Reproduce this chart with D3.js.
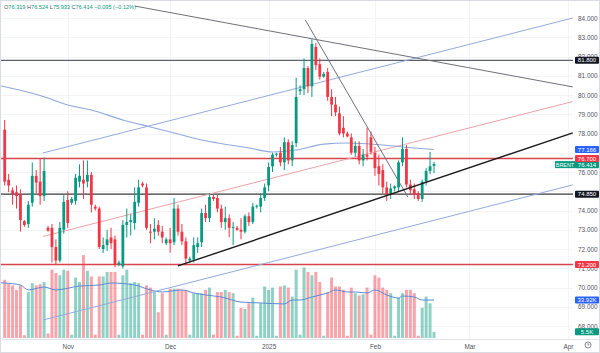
<!DOCTYPE html>
<html><head><meta charset="utf-8">
<script src="https://cdn.jsdelivr.net/npm/d3@7"></script>
<style>
body{margin:0;background:#fff}
svg{display:block}
text{font-family:"Liberation Sans",Arial,sans-serif}
</style>
</head><body>
<svg id="c" width="600" height="353"></svg>
<script>
// ---------- DATA ----------
const dates = ["2024-10-14","2024-10-15","2024-10-16","2024-10-17","2024-10-18","2024-10-20","2024-10-21","2024-10-22","2024-10-23","2024-10-24","2024-10-25","2024-10-27","2024-10-28","2024-10-29","2024-10-30","2024-10-31","2024-11-01","2024-11-03","2024-11-04","2024-11-05","2024-11-06","2024-11-07","2024-11-08","2024-11-10","2024-11-11","2024-11-12","2024-11-13","2024-11-14","2024-11-15","2024-11-17","2024-11-18","2024-11-19","2024-11-20","2024-11-21","2024-11-22","2024-11-24","2024-11-25","2024-11-26","2024-11-27","2024-11-28","2024-11-29","2024-12-01","2024-12-02","2024-12-03","2024-12-04","2024-12-05","2024-12-06","2024-12-08","2024-12-09","2024-12-10","2024-12-11","2024-12-12","2024-12-13","2024-12-15","2024-12-16","2024-12-17","2024-12-18","2024-12-19","2024-12-20","2024-12-22","2024-12-23","2024-12-24","2024-12-26","2024-12-27","2024-12-29","2024-12-30","2024-12-31","2025-01-02","2025-01-03","2025-01-05","2025-01-06","2025-01-07","2025-01-08","2025-01-09","2025-01-10","2025-01-12","2025-01-13","2025-01-14","2025-01-15","2025-01-16","2025-01-17","2025-01-19","2025-01-20","2025-01-21","2025-01-22","2025-01-23","2025-01-24","2025-01-26","2025-01-27","2025-01-28","2025-01-29","2025-01-30","2025-01-31","2025-02-02","2025-02-03","2025-02-04","2025-02-05","2025-02-06","2025-02-07","2025-02-09","2025-02-10","2025-02-11","2025-02-12","2025-02-13","2025-02-14","2025-02-16","2025-02-17","2025-02-18","2025-02-19","2025-02-20"];

const opens  = [78.2,75.6,75.05,74.95,74.85,73.45,73.3,74.4,75.8,75.5,74.75,73.1,73.1,72.1,71.4,73.0,74.55,74.4,74.5,75.5,75.6,75.5,75.85,74.2,74.1,72.0,72.2,72.6,72.5,71.2,71.1,73.25,73.4,73.35,74.4,75.4,75.2,72.9,72.9,73.25,72.9,72.3,72.5,72.35,74.1,72.9,72.4,71.4,71.45,72.1,72.35,73.87,73.6,74.7,74.65,74.1,73.4,73.6,73.1,73.1,73.0,72.9,73.7,73.4,74.2,74.2,74.65,75.3,76.3,76.9,77.0,76.5,77.55,76.6,77.5,80.2,80.3,81.4,80.45,82.5,81.6,80.95,81.2,79.9,79.5,79.05,78.3,78.0,77.8,77.0,77.35,76.6,76.9,77.8,77.0,76.3,76.1,75.2,74.85,75.15,75.2,76.5,77.2,75.35,75.1,74.9,74.6,75.5,76.05,76.319];
const highs  = [78.7,75.9,75.2,75.3,75.1,73.5,74.5,76.5,76.1,76.7,76.75,73.2,73.3,72.5,73.4,74.8,75.0,74.7,75.9,76.4,76.6,76.6,76.0,74.3,74.2,72.6,73.0,73.1,72.7,71.4,73.5,74.1,73.8,75.2,75.6,75.5,75.4,73.3,73.6,73.5,73.2,72.6,73.1,74.65,74.3,73.3,72.6,71.6,72.6,72.6,74.1,74.3,74.9,74.8,74.8,74.3,74.2,73.8,73.4,73.2,73.6,73.8,73.9,74.4,74.3,74.9,75.4,76.5,77.0,77.0,77.3,77.8,77.7,77.6,80.9,80.5,81.9,81.5,82.9,82.7,81.9,81.2,81.4,80.3,79.9,79.4,78.9,78.1,78.0,77.6,77.6,77.2,78.3,78.1,77.3,76.9,76.4,75.5,75.4,75.3,76.6,77.8,77.4,75.6,75.4,75.0,75.6,76.2,77.05,76.524];
const lows   = [75.3,74.95,74.3,74.1,72.9,73.15,73.1,74.2,74.9,74.3,74.5,72.9,71.3,71.2,71.3,72.8,73.1,74.3,74.3,75.2,74.6,75.2,73.9,74.0,72.0,71.8,71.9,72.0,71.05,71.1,71.0,72.6,72.7,73.0,74.2,75.2,73.0,72.3,72.5,72.7,72.3,72.2,71.8,72.2,72.7,72.2,71.15,71.3,71.3,71.8,72.1,73.4,73.4,74.5,73.9,73.1,73.0,72.6,72.2,72.95,72.5,72.8,73.2,73.3,74.1,73.9,74.5,75.0,76.0,76.8,76.3,76.1,76.4,76.3,77.3,80.0,80.0,80.1,79.9,81.3,80.8,80.9,79.7,78.9,78.9,77.9,77.8,77.8,76.9,76.8,76.4,76.3,76.6,76.9,75.8,75.3,74.9,74.5,74.6,75.0,75.0,76.3,75.2,74.8,74.6,74.5,74.45,75.3,75.9,75.933];
const closes = [75.5,75.3,74.85,74.75,73.5,73.25,74.3,75.8,75.45,74.75,76.05,72.95,72.1,71.4,73.1,74.45,73.35,74.6,75.7,75.8,75.4,75.85,74.3,74.1,72.1,72.2,72.5,72.3,71.2,71.3,73.25,73.4,73.5,74.45,75.2,75.3,73.1,72.85,73.05,72.9,72.6,72.5,72.3,74.1,72.9,72.4,71.5,71.5,72.2,72.3,73.87,73.6,74.7,74.6,74.1,73.4,73.6,73.1,73.15,73.0,72.9,73.7,73.4,74.2,74.25,74.65,75.2,76.26,76.9,76.95,76.5,77.55,76.6,77.4,79.9,80.3,81.4,80.45,82.65,81.55,80.95,81.1,79.9,79.5,79.1,78.0,78.0,77.85,77.0,77.35,76.6,76.9,76.8,77.05,76.2,75.9,75.2,74.85,75.15,75.25,76.5,77.2,75.35,75.05,74.8,74.6,75.5,76.05,76.3,76.414];
const volumes = [52,49,47,43,47,2.5,41,49,47,48,50,4,61,58,56,61,60,3,54,50,74,60,55,3,55,55,59,59,59,3,56,61,49,50,49,3,47,45,41,23,40,3,44,44,44,43,43,3,40,40,40,43,45,3,41,41,43,41,40,2,27,26,31,36,2,31,46,43,45,2,46,47,45,37,61,3,63,59,56,59,50,2,41,54,46,46,43,2,45,40,38,39,45,3,56,54,45,43,40,2,36,40,43,43,40,2,27,37,31,5.5];

// moving average of price (at these bar indices)
const maIdx = [-1.2,0,10,16,22,30,37,43,50,54,62,68,74,81,87,96,104,109];
const maVal = [80.48,80.43,79.91,79.48,79.22,78.70,78.34,78.03,77.66,77.51,77.25,77.04,77.14,77.45,77.51,77.40,77.25,77.166];
// volume moving average (thousands)
const volMaIdx = [-1.2,0,4,6,10,13,19,24,27,33,37,40,45,48,51,55,60,65,71,73,75,78,82,84,87,89,92,94,97,100,101,104,106,109];
const volMaVal = [49.3,49.1,47.3,42.9,45.5,42.9,46.4,47.3,49.1,47.3,42.9,41.1,42.9,40.2,38.4,36.6,32.1,31.3,30.4,33.9,33.9,36.6,40.2,42.9,41.1,41.1,40.2,42.9,38.4,35.7,37.5,36.6,33.9,33.92];

const priceTicks = [68,69,70,71,72,73,74,75,76,77,78,79,80,81,82,83,84];
const monthLabels = ["Nov","Dec","2025","Feb","Mar","Apr"];
const monthIdx = [16,42,67,94,118,143];

const hLevels = [81.8, 76.7, 74.85, 71.2];
// drawn trend lines: [barIndex, price] endpoints
const lineFrom = [[33.07,84.62],[76.32,83.9],[44.0,71.12],[9.72,76.99],[9.72,72.65],[9.72,68.31]];
const lineTo   = [[144.24,80.42],[102.36,74.70],[144.24,78.03],[144.24,84.0],[144.24,79.66],[144.24,75.33]];

const lastVolMa = 33.92, lastVol = 5.5;
const headerVals = {O:"76.319",H:"76.524",L:"75.933",C:"76.414",chg:"−0.095 (−0.12%)"};

// ---------- STYLE ----------
const UP="#089981", DN="#f23645";
const VUP="rgba(8,153,129,0.45)", VDN="rgba(242,54,69,0.45)";
const hLevelStyle = [{c:"#5d6066",w:1.3},{c:"#d8434e",w:1.5},{c:"#3a3a3a",w:1.3},{c:"#d8434e",w:1.5}];
const hLabelBg = ["#131722","#f23645","#131722","#f23645"];
const lineStyle = [{c:"#6f7177",w:1},{c:"#6f7177",w:1},{c:"#1b1b1b",w:1.4},{c:"#93abdc",w:1},{c:"#eea3a8",w:1},{c:"#93abdc",w:1}];

const W=600,H=353, PR=573, PB=339, BH=7;
const svg = d3.select("#c");

const x = d3.scaleLinear().domain([0,109]).range([4.7,434]);
const y = d3.scaleLinear().domain([68,84]).range([326,18]);
const yv = d3.scaleLinear().domain([0,60]).range([338,270.8]);

const data = dates.map((d,i)=>({i,d,o:opens[i],h:highs[i],l:lows[i],c:closes[i],v:volumes[i]}));

svg.append("rect").attr("width",W).attr("height",H).attr("fill","#fff");
svg.append("clipPath").attr("id","clip").append("rect").attr("x",0).attr("y",0).attr("width",PR).attr("height",PB);

// grid
const grid = svg.append("g").attr("clip-path","url(#clip)");
grid.selectAll(".hg").data(priceTicks).join("line")
  .attr("x1",0).attr("x2",PR).attr("y1",d=>Math.round(y(d))+0.5).attr("y2",d=>Math.round(y(d))+0.5)
  .attr("stroke","#f3f4f7").attr("stroke-width",1);
grid.selectAll(".vg").data(monthIdx).join("line")
  .attr("y1",0).attr("y2",PB).attr("x1",d=>Math.round(x(d))+0.5).attr("x2",d=>Math.round(x(d))+0.5)
  .attr("stroke","#f3f4f7").attr("stroke-width",1);

const plot = svg.append("g").attr("clip-path","url(#clip)");

// volume bars
const bw = 3.0;
plot.selectAll(".vol").data(data).join("rect")
  .attr("x",d=>x(d.i)-bw/2).attr("width",bw)
  .attr("y",d=>yv(d.v)).attr("height",d=>yv(0)-yv(d.v))
  .attr("fill",d=>d.c>=d.o?VUP:VDN);

// volume MA
plot.append("path").datum(volMaIdx.map((k,j)=>[k,volMaVal[j]]))
  .attr("d",d3.line().x(d=>x(d[0])).y(d=>yv(d[1])).curve(d3.curveMonotoneX))
  .attr("fill","none").attr("stroke","#5b8ad6").attr("stroke-width",1);

// horizontal levels
plot.selectAll(".lvl").data(hLevels).join("line")
  .attr("x1",0).attr("x2",PR).attr("y1",d=>y(d)).attr("y2",d=>y(d))
  .attr("stroke",(d,k)=>hLevelStyle[k].c).attr("stroke-width",(d,k)=>hLevelStyle[k].w);

// channel lines (below candles)
plot.selectAll(".tl").data(lineFrom.map((f,k)=>({f,t:lineTo[k],k})).filter(d=>d.k>=3)).join("line")
  .attr("x1",d=>x(d.f[0])).attr("y1",d=>y(d.f[1])).attr("x2",d=>x(d.t[0])).attr("y2",d=>y(d.t[1]))
  .attr("stroke",d=>lineStyle[d.k].c).attr("stroke-width",d=>lineStyle[d.k].w);

// price MA
plot.append("path").datum(maIdx.map((k,j)=>[k,maVal[j]]))
  .attr("d",d3.line().x(d=>x(d[0])).y(d=>y(d[1])).curve(d3.curveMonotoneX))
  .attr("fill","none").attr("stroke","#8fa9dc").attr("stroke-width",1.1);

// candles
const cw = 2.8;
const cg = plot.selectAll(".cd").data(data).join("g");
cg.append("line").attr("x1",d=>x(d.i)).attr("x2",d=>x(d.i))
  .attr("y1",d=>y(d.h)).attr("y2",d=>y(d.l))
  .attr("stroke",d=>d.c>=d.o?UP:DN).attr("stroke-width",1);
cg.append("rect").attr("x",d=>x(d.i)-cw/2).attr("width",cw)
  .attr("y",d=>y(Math.max(d.o,d.c)))
  .attr("height",d=>Math.max(1,Math.abs(y(d.o)-y(d.c))))
  .attr("fill",d=>d.c>=d.o?UP:DN);

// trend lines (above candles)
plot.selectAll(".tl2").data(lineFrom.map((f,k)=>({f,t:lineTo[k],k})).filter(d=>d.k<3)).join("line")
  .attr("x1",d=>x(d.f[0])).attr("y1",d=>y(d.f[1])).attr("x2",d=>x(d.t[0])).attr("y2",d=>y(d.t[1]))
  .attr("stroke",d=>lineStyle[d.k].c).attr("stroke-width",d=>lineStyle[d.k].w);

// frame / separators
svg.append("line").attr("x1",0).attr("x2",W).attr("y1",339.5).attr("y2",339.5).attr("stroke","#e0e3eb");
svg.append("rect").attr("x",0.5).attr("y",0.5).attr("width",W-1).attr("height",H-1).attr("fill","none").attr("stroke","#d9dce3");

// value boxes positions (used to hide fully covered tick labels, as the reference does)
const boxYs = hLevels.map(v=>y(v)).concat([y(maVal[maVal.length-1]), y(closes[closes.length-1])]);

// price axis
const ax = svg.append("g").attr("transform",`translate(577,0)`)
  .call(d3.axisRight(y).tickValues(priceTicks).tickFormat(d3.format(".3f")).tickSize(0).tickPadding(1));
ax.select(".domain").remove();
ax.selectAll("text").attr("fill","#50535e").attr("font-size","6.4px").attr("font-family","Liberation Sans, Arial, sans-serif");
ax.selectAll(".tick").filter(d=>boxYs.some(b=>Math.abs(b-y(d))<3.6)).remove();

// time axis
const tx = svg.append("g").attr("transform",`translate(0,341)`)
  .call(d3.axisBottom(x).tickValues(monthIdx).tickFormat((d,k)=>monthLabels[k]).tickSize(0).tickPadding(3));
tx.select(".domain").remove();
tx.selectAll("text").attr("fill","#50535e").attr("font-size","6.4px").attr("font-family","Liberation Sans, Arial, sans-serif");

// right-side value boxes
function box(yy, txt, bg, fg){
  const g = svg.append("g");
  g.append("rect").attr("x",575).attr("y",yy-BH/2).attr("width",24).attr("height",BH).attr("fill",bg).attr("rx",1);
  g.append("text").attr("x",587).attr("y",yy+2.1).attr("text-anchor","middle").attr("fill",fg||"#fff")
   .attr("font-size","6px").text(txt);
}
// symbol + last price (drawn first, then the level labels above it)
const lastY = y(closes[closes.length-1]) + 0.6;
svg.append("rect").attr("x",555).attr("y",lastY-BH/2).attr("width",20).attr("height",BH).attr("fill",UP);
svg.append("text").attr("x",565).attr("y",lastY+2).attr("text-anchor","middle").attr("fill","#fff").attr("font-size","5.4px").text("BRENT");
box(lastY, d3.format(".3f")(closes[closes.length-1]), UP);
hLevels.forEach((v,k)=>box(y(v), d3.format(".3f")(v), hLabelBg[k]));
box(y(maVal[maVal.length-1]), d3.format(".3f")(maVal[maVal.length-1]), "#2962ff");
box(yv(lastVolMa), lastVolMa+"K", "#2962ff");
box(yv(lastVol), lastVol+"K", UP);

// clock icon
const ck = svg.append("g").attr("transform","translate(588,345)");
ck.append("circle").attr("r",3).attr("fill","none").attr("stroke","#50535e").attr("stroke-width",0.7);
ck.append("path").attr("d","M0,-1.8V0H1.4").attr("fill","none").attr("stroke","#50535e").attr("stroke-width",0.6);

// header legend
const hd = svg.append("text").attr("x",4).attr("y",8.5).attr("font-size","5.6px").attr("fill",UP);
["O","H","L","C"].forEach(k=>{
  hd.append("tspan").attr("fill","#50535e").text(k);
  hd.append("tspan").text(headerVals[k]+" ");
});
hd.append("tspan").text(headerVals.chg);
</script>
</body></html>
